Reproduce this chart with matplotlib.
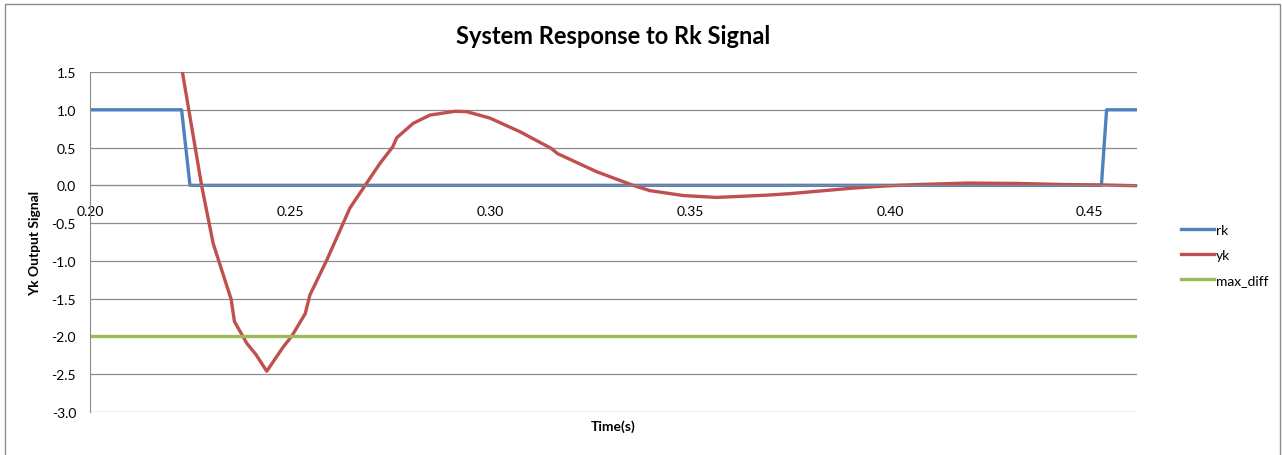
import matplotlib
matplotlib.use("Agg")
import matplotlib.pyplot as plt
from matplotlib.patches import Rectangle

plt.rcParams['font.family'] = ['Lato', 'DejaVu Sans']
plt.rcParams['axes.unicode_minus'] = False

# data
rk_t = [0.2000, 0.2229, 0.2250, 0.4529, 0.4542, 0.4618]
rk = [1.0, 1.0, 0.0, 0.0, 1.0, 1.0]

yk_t = [0.2215, 0.2231, 0.2279, 0.2308, 0.2353, 0.2361, 0.2392, 0.2415,
        0.2442, 0.2483, 0.2504, 0.2538, 0.2550, 0.2592, 0.2650, 0.2688,
        0.2725, 0.2757, 0.2767, 0.2808, 0.2850, 0.2913, 0.2942, 0.3000,
        0.3075, 0.3153, 0.3169, 0.3267, 0.3358, 0.3400, 0.3483, 0.3567,
        0.3692, 0.3750, 0.3858, 0.3900, 0.3983, 0.4025, 0.4067, 0.4192,
        0.4317, 0.4442, 0.4533, 0.4618]
yk = [2.00, 1.50, 0.00, -0.77, -1.51, -1.80, -2.09, -2.24,
      -2.46, -2.14, -2.00, -1.70, -1.45, -0.99, -0.30, 0.00,
      0.29, 0.51, 0.63, 0.82, 0.93, 0.98, 0.975, 0.89,
      0.71, 0.49, 0.42, 0.18, 0.00, -0.07, -0.135, -0.16,
      -0.13, -0.11, -0.06, -0.04, -0.01, 0.00, 0.01, 0.03,
      0.025, 0.01, 0.005, -0.005]

max_t = [0.2000, 0.4618]
max_diff = [-2.0, -2.0]

x_ticks = [0.20, 0.25, 0.30, 0.35, 0.40, 0.45]
y_ticks = [1.5, 1.0, 0.5, 0.0, -0.5, -1.0, -1.5, -2.0, -2.5, -3.0]

W, H = 1282, 456
fig = plt.figure(figsize=(W / 100, H / 100), dpi=100)
fig.patches.append(Rectangle((5 / W, -0.1), 1275 / W, 1 - 5 / H + 0.1,
                             transform=fig.transFigure, fill=False,
                             edgecolor='#8c8c8c', linewidth=1))

ax = fig.add_axes([90 / W, 1 - 413 / H, (1137 - 90) / W, (413 - 73) / H])
ax.set_xlim(0.2, 0.4618)
ax.set_ylim(-3.0, 1.5)
ax.set_yticks(y_ticks)
ax.set_xticks(x_ticks)
ax.set_yticklabels(['%.1f' % v for v in y_ticks])
ax.set_xticklabels(['%.2f' % v for v in x_ticks])
ax.grid(axis='y', color='#8c8c8c', linewidth=0.9)
ax.set_axisbelow(True)
for s in ['top', 'right']:
    ax.spines[s].set_visible(False)
ax.spines['left'].set_color('#8c8c8c')
ax.spines['bottom'].set_color('#8c8c8c')
ax.spines['bottom'].set_position(('data', 0))
ax.tick_params(length=0, labelsize=10, colors='black')
ax.tick_params(axis='x', pad=14)
ax.tick_params(axis='y', pad=10)

ax.plot(rk_t, rk, color='#4f81bd', linewidth=2.4, label='rk')
ax.plot(yk_t, yk, color='#c0504d', linewidth=2.4, label='yk')
ax.plot(max_t, max_diff, color='#9bbb59', linewidth=2.4, label='max_diff')

fig.text(613 / W, 1 - 36 / H, 'System Response to Rk Signal', ha='center',
         va='center', fontsize=17, fontweight='bold')
fig.text(613 / W, 1 - 427 / H, 'Time(s)', ha='center', va='center',
         fontsize=10, fontweight='bold')
fig.text(35 / W, 1 - 243 / H, 'Yk Output Signal', ha='center', va='center',
         rotation=90, fontsize=10, fontweight='bold')

fig.legend(loc='center left', bbox_to_anchor=(1168 / W, 1 - 256 / H),
           frameon=False, fontsize=10, handlelength=2.4, handletextpad=0.15,
           labelspacing=0.95)

fig.savefig('out.png', dpi=100)
